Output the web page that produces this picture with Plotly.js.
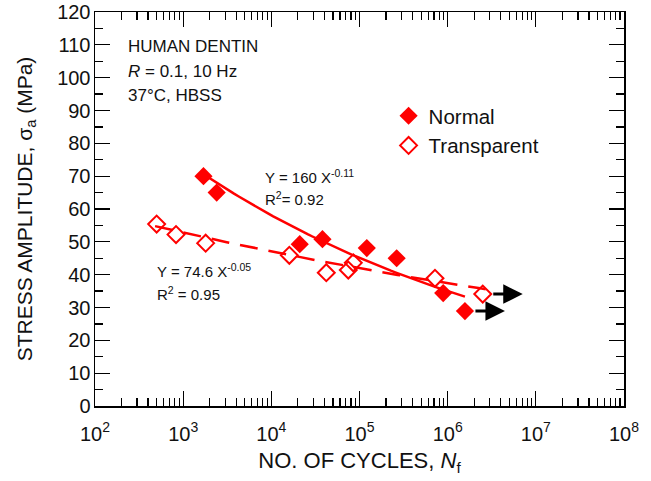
<!DOCTYPE html>
<html>
<head>
<meta charset="utf-8">
<script src="https://cdn.plot.ly/plotly-3.0.1.min.js"></script>
<style>html,body{margin:0;padding:0;background:#fff;}#chart{width:651px;height:481px;}</style>
</head>
<body>
<div id="chart"></div>
<script>
// ---- data ----
const normalCycles = [1700, 2400, 21000, 38000, 121000, 264000, 890000, 1570000];
const normalStress = [70, 65, 49.3, 50.8, 48.1, 45.0, 34.4, 28.9];
const transCycles = [500, 830, 1800, 16000, 42000, 74600, 85000, 718000, 2500000];
const transStress = [55.4, 52.2, 49.6, 45.9, 40.6, 41.4, 43.6, 38.9, 34.1];
// runout arrows: [cycles, stress] of the runout point and arrow tip cycles
const runoutNormal = [1570000, 28.9];
const runoutTrans = [2500000, 34.1];
const arrowTipCycles = [4460000, 7100000];
// power-law fits printed on the chart: Y = a X^b
const fitNormalCoef = [160, -0.11];
const fitNormalRange = [1700, 1570000];
const fitTransCoef = [74.6, -0.05];
const fitTransRange = [480, 2700000];
const xTickVals = [1e2, 1e3, 1e4, 1e5, 1e6, 1e7, 1e8];
const xTickText = ['10<sup>2</sup>', '10<sup>3</sup>', '10<sup>4</sup>', '10<sup>5</sup>', '10<sup>6</sup>', '10<sup>7</sup>', '10<sup>8</sup>'];
const yTickVals = [0, 10, 20, 30, 40, 50, 60, 70, 80, 90, 100, 110, 120];

function fitCurve(coef, range, n) {
  const xs = [], ys = [];
  const l0 = Math.log10(range[0]), l1 = Math.log10(range[1]);
  for (let i = 0; i <= n; i++) {
    const x = Math.pow(10, l0 + (l1 - l0) * i / n);
    xs.push(x);
    ys.push(coef[0] * Math.pow(x, coef[1]));
  }
  return {x: xs, y: ys};
}

const RED = '#ff0000';
const FONT = 'Liberation Sans, Arial, Helvetica, sans-serif';
const fN = fitCurve(fitNormalCoef, fitNormalRange, 60);
const fT = fitCurve(fitTransCoef, fitTransRange, 60);

const traces = [
  {x: fN.x, y: fN.y, mode: 'lines', line: {color: RED, width: 2.5}, showlegend: false, hoverinfo: 'skip'},
  {x: fT.x, y: fT.y, mode: 'lines', line: {color: RED, width: 2.5, dash: '18px,11px'}, showlegend: false, hoverinfo: 'skip'},
  {x: normalCycles, y: normalStress, mode: 'markers', name: 'Normal',
   marker: {symbol: 'diamond', size: 14, color: RED, line: {width: 0}}},
  {x: transCycles, y: transStress, mode: 'markers', name: 'Transparent',
   marker: {symbol: 'diamond-open', size: 13, color: RED, line: {width: 2, color: RED}}}
];

const txt = (text, x, y, size, extra) => Object.assign({
  text: text, xref: 'paper', yref: 'paper', x: x, y: y, xanchor: 'left', yanchor: 'middle',
  showarrow: false, font: {family: FONT, size: size, color: '#111'}
}, extra || {});

const annotations = [
  txt('HUMAN DENTIN', 0.0586, 0.912, 17),
  txt('<i>R</i> = 0.1, 10 Hz', 0.0586, 0.848, 17),
  txt('37°C, HBSS', 0.0586, 0.789, 17),
  txt('Y = 160 X<sup>-0.11</sup>', 0.318, 0.582, 15),
  txt('R<sup>2</sup>= 0.92', 0.318, 0.526, 15),
  txt('Y = 74.6 X<sup>-0.05</sup>', 0.114, 0.343, 15),
  txt('R<sup>2</sup> = 0.95', 0.114, 0.285, 15),
  {x: Math.log10(arrowTipCycles[0]), y: runoutNormal[1], ax: Math.log10(runoutNormal[0]), ay: runoutNormal[1],
   xref: 'x', yref: 'y', axref: 'x', ayref: 'y', showarrow: true, arrowhead: 2, arrowsize: 1.3, arrowwidth: 3,
   arrowcolor: '#000', startstandoff: 9, text: ''},
  {x: Math.log10(arrowTipCycles[1]), y: runoutTrans[1], ax: Math.log10(runoutTrans[0]), ay: runoutTrans[1],
   xref: 'x', yref: 'y', axref: 'x', ayref: 'y', showarrow: true, arrowhead: 2, arrowsize: 1.3, arrowwidth: 3,
   arrowcolor: '#000', startstandoff: 9, text: ''}
];

const layout = {
  width: 651, height: 481,
  margin: {l: 95, r: 27, t: 12, b: 75},
  paper_bgcolor: '#fff', plot_bgcolor: '#fff',
  font: {family: FONT, color: '#111'},
  showlegend: true,
  legend: {x: 0.555, y: 0.787, xanchor: 'left', yanchor: 'top', bgcolor: 'rgba(0,0,0,0)',
           font: {family: FONT, size: 20.5, color: '#111'}, itemwidth: 30, tracegroupgap: 0},
  xaxis: {
    type: 'log', range: [2, 8], tickmode: 'array', tickvals: xTickVals, ticktext: xTickText,
    ticks: 'inside', ticklen: 15, tickwidth: 1.2, tickcolor: '#000',
    minor: {ticks: 'inside', ticklen: 8, tickwidth: 1.2, tickcolor: '#000', dtick: 'D1', showgrid: false},
    showline: true, linecolor: '#000', linewidth: 1.5, mirror: 'allticks',
    showgrid: false, zeroline: false,
    tickfont: {family: FONT, size: 20, color: '#111'}, ticklabelstandoff: 9,
    title: {text: 'NO. OF CYCLES, <i>N</i><sub>f</sub>', font: {family: FONT, size: 22, color: '#111'}, standoff: 9}
  },
  yaxis: {
    range: [0, 120], tickmode: 'array', tickvals: yTickVals,
    ticks: 'inside', ticklen: 15, tickwidth: 1.2, tickcolor: '#000',
    minor: {ticks: 'inside', ticklen: 8, tickwidth: 1.2, tickcolor: '#000', dtick: 5, showgrid: false},
    showline: true, linecolor: '#000', linewidth: 1.5, mirror: 'allticks',
    showgrid: false, zeroline: false,
    tickfont: {family: FONT, size: 20, color: '#111'}, ticklabelstandoff: -1,
    title: {text: 'STRESS AMPLITUDE, σ<sub>a</sub> (MPa)', font: {family: FONT, size: 21, color: '#111'}, standoff: 19}
  },
  annotations: annotations
};

Plotly.newPlot('chart', traces, layout, {staticPlot: true, displayModeBar: false});
</script>
</body>
</html>
